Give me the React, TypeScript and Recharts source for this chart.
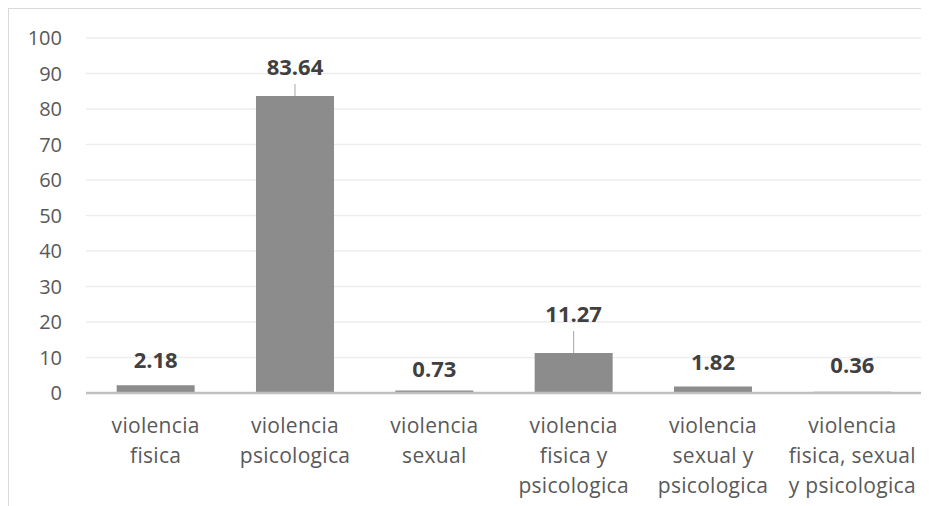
import { Bar, BarChart, CartesianGrid, LabelList, XAxis, YAxis } from "recharts"

const categories = [
  "violencia fisica",
  "violencia psicologica",
  "violencia sexual",
  "violencia fisica y psicologica",
  "violencia sexual y psicologica",
  "violencia fisica, sexual y psicologica",
]

const tickLines = [
  ["violencia", "fisica"],
  ["violencia", "psicologica"],
  ["violencia", "sexual"],
  ["violencia", "fisica y", "psicologica"],
  ["violencia", "sexual y", "psicologica"],
  ["violencia", "fisica, sexual", "y psicologica"],
]

const values = [2.18, 83.64, 0.73, 11.27, 1.82, 0.36]

const yTicks = [0, 10, 20, 30, 40, 50, 60, 70, 80, 90, 100]

// label distance above the bar top, px (labels were dragged in the original)
const labelLift = [25, 29, 21, 39, 25, 27]
const withLeader = [false, true, false, true, false, false]

const data = categories.map((name, i) => ({ name, value: values[i], idx: i }))

const FONT = "'Open Sans', 'Noto Sans', sans-serif"

function XTick(props: any) {
  const { x, y, payload } = props
  const lines = tickLines[payload.index] ?? [payload.value]
  return (
    <text
      x={x}
      y={y}
      textAnchor="middle"
      fill="#595959"
      fontSize={21}
      letterSpacing={0.3}
      fontFamily={FONT}
    >
      {lines.map((l, i) => (
        <tspan key={i} x={x} dy={i === 0 ? 32 : 30}>
          {l}
        </tspan>
      ))}
    </text>
  )
}

function ValueLabel(props: any) {
  const { x, y, width, index, value } = props
  const cx = x + width / 2
  const lift = labelLift[index]
  const cy = y - lift
  return (
    <g>
      {withLeader[index] && (
        <line
          x1={cx}
          x2={cx}
          y1={cy + 17}
          y2={y}
          stroke="#a6a6a6"
          strokeWidth={1}
        />
      )}
      <text
        x={cx}
        y={cy}
        dy={8}
        textAnchor="middle"
        fill="#404040"
        fontSize={22}
        fontWeight={700}
        fontFamily={FONT}
      >
        {value.toFixed(2)}
      </text>
    </g>
  )
}

export default function App() {
  return (
    <div
      style={{
        width: 921,
        height: 498,
        borderTop: "1px solid #d9d9d9",
        borderLeft: "1px solid #d9d9d9",
        background: "#fff",
        fontFamily: FONT,
      }}
    >
      <BarChart
        width={920}
        height={497}
        data={data}
        margin={{ top: 29, right: 7, left: 0, bottom: 0 }}
        barCategoryGap="22%"
      >
        <CartesianGrid vertical={false} stroke="#ededed" strokeWidth={1.5} />
        <XAxis
          dataKey="name"
          axisLine={{ stroke: "#bfbfbf", strokeWidth: 2.5 }}
          tickLine={false}
          interval={0}
          height={113}
          tick={<XTick />}
        />
        <YAxis
          domain={[0, 100]}
          ticks={yTicks}
          width={77}
          axisLine={false}
          tickLine={false}
          tickSize={0}
          tickMargin={24}
          tick={{ fill: "#595959", fontSize: 20, fontFamily: FONT }}
        />
        <Bar dataKey="value" fill="#8c8c8c" isAnimationActive={false}>
          <LabelList dataKey="value" content={<ValueLabel />} />
        </Bar>
      </BarChart>
    </div>
  )
}
